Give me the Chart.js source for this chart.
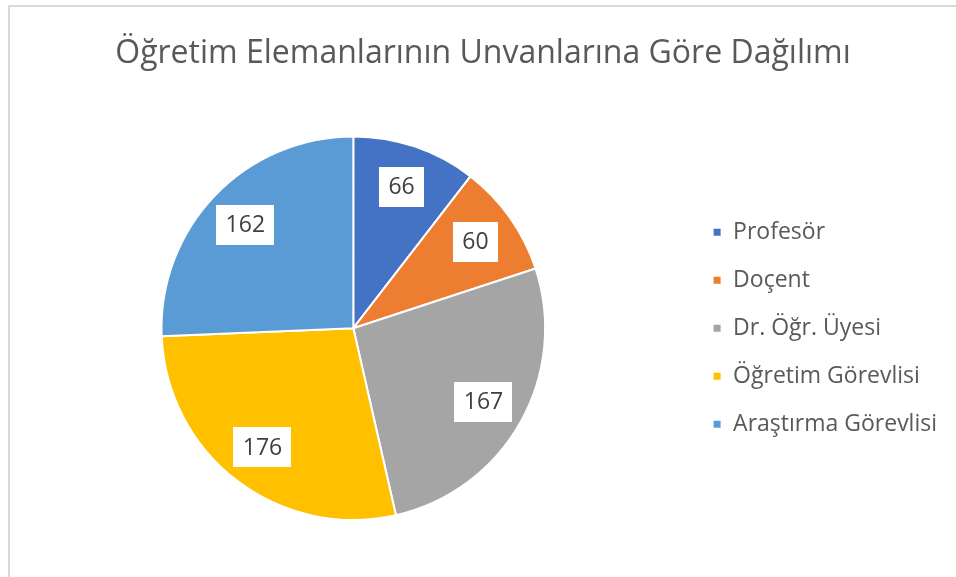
<!DOCTYPE html>
<html>
<head>
<meta charset="utf-8">
<script src="https://cdn.jsdelivr.net/npm/chart.js@4"></script>
<style>
  html, body { margin: 0; padding: 0; background: #fff; overflow: hidden; }
  #frame {
    position: absolute; left: 8px; top: 5px; width: 1000px; height: 600px;
    border-top: 2px solid #d9d9d9; border-left: 2px solid #d9d9d9;
  }
  #wrap { position: absolute; left: 0; top: 0; width: 956px; height: 577px; }
</style>
</head>
<body>
<div id="frame"></div>
<div id="wrap"><canvas id="pieChart"></canvas></div>
<script>
const titleText = 'Öğretim Elemanlarının Unvanlarına Göre Dağılımı';
const categories = ['Profesör', 'Doçent', 'Dr. Öğr. Üyesi', 'Öğretim Görevlisi', 'Araştırma Görevlisi'];
const counts = [66, 60, 167, 176, 162];
const sliceColors = ['#4472C4', '#ED7D31', '#A5A5A5', '#FFC000', '#5B9BD5'];

const fontFamily = '"Open Sans", sans-serif';

// draws the value labels inside white boxes, like the Excel data labels
const valueLabels = {
    id: 'valueLabels',
    afterDatasetsDraw(chart) {
        const ctx = chart.ctx;
        const meta = chart.getDatasetMeta(0);
        ctx.save();
        ctx.font = '23px ' + fontFamily;
        ctx.textAlign = 'center';
        ctx.textBaseline = 'middle';
        meta.data.forEach((arc, i) => {
            const { x, y, startAngle, endAngle, outerRadius } = arc.getProps(['x', 'y', 'startAngle', 'endAngle', 'outerRadius'], true);
            const mid = (startAngle + endAngle) / 2;
            const r = outerRadius * 0.78;
            const lx = x + Math.cos(mid) * r;
            const ly = y + Math.sin(mid) * r;
            const text = String(counts[i]);
            const w = ctx.measureText(text).width + 19;
            const h = 40;
            ctx.fillStyle = '#ffffff';
            ctx.fillRect(Math.round(lx - w / 2), Math.round(ly - h / 2), Math.round(w), h);
            ctx.fillStyle = '#404040';
            ctx.fillText(text, lx, ly + 1);
        });
        ctx.restore();
    }
};

new Chart(document.getElementById('pieChart'), {
    type: 'pie',
    data: {
        labels: categories,
        datasets: [{
            data: counts,
            backgroundColor: sliceColors,
            borderColor: '#ffffff',
            borderWidth: 2
        }]
    },
    options: {
        responsive: true,
        maintainAspectRatio: false,
        animation: false,
        layout: {
            padding: { left: 19, right: 9, top: 0, bottom: 56 }
        },
        plugins: {
            title: {
                display: true,
                text: titleText,
                color: '#595959',
                font: { family: fontFamily, size: 32, weight: 'normal' },
                padding: { top: 35, bottom: 62 }
            },
            legend: {
                position: 'right',
                fullSize: false,
                labels: {
                    boxWidth: 9,
                    boxHeight: 9,
                    padding: 25,
                    color: '#595959',
                    font: { family: fontFamily, size: 23 }
                }
            },
            tooltip: { enabled: false }
        }
    },
    plugins: [valueLabels]
});
</script>
</body>
</html>
